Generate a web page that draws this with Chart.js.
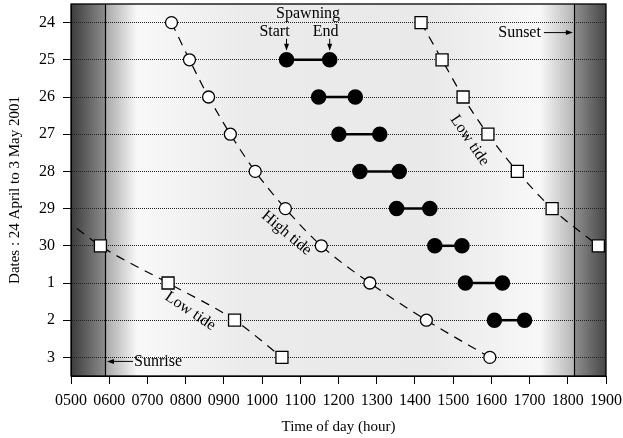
<!DOCTYPE html>
<html>
<head>
<meta charset="utf-8">
<script src="https://cdn.jsdelivr.net/npm/chart.js@4/dist/chart.umd.min.js"></script>
<style>
  html, body { margin: 0; padding: 0; background: #fff; }
  #wrap { width: 623px; height: 438px; }
</style>
</head>
<body>
<div id="wrap"><canvas id="chart"></canvas></div>
<script>
// dates run top to bottom, 24 April .. 3 May 2001
const dates = ['24', '25', '26', '27', '28', '29', '30', '1', '2', '3'];

// times of day, hhmm read on a linear 0500..1900 axis
const highTide     = [763, 810, 860, 917, 982, 1061, 1155, 1282, 1430, 1596];
const lowTideLate  = [1416, 1471, 1526, 1591, 1668, 1759, 1880, null, null, null];
const lowTideEarly = [null, null, null, null, null, 450, 577, 754, 928, 1052];
const spawnStart   = [null, 1064, 1148, 1201, 1256, 1352, 1452, 1532, 1608, null];
const spawnEnd     = [null, 1177, 1244, 1308, 1359, 1439, 1523, 1629, 1687, null];

const sunrise = 589;
const sunset = 1816;

const xTicks = [500, 600, 700, 800, 900, 1000, 1100, 1200, 1300, 1400, 1500, 1600, 1700, 1800, 1900];

const serif = '"Liberation Serif", "DejaVu Serif", serif';

function points(arr) {
  const out = [];
  arr.forEach((v, i) => { if (v !== null) out.push({x: v, y: i}); });
  return out;
}

const tideStyle = {
  showLine: true,
  borderColor: '#000',
  borderWidth: 1.2,
  borderDash: [9, 7],
  pointBackgroundColor: '#fff',
  pointBorderColor: '#000',
  pointBorderWidth: 1.3,
  cubicInterpolationMode: 'monotone'
};

const datasets = [
  Object.assign({label: 'High tide', data: points(highTide), pointStyle: 'circle', pointRadius: 6}, tideStyle),
  Object.assign({label: 'Low tide', data: points(lowTideLate), pointStyle: 'rect', pointRadius: 8.5}, tideStyle),
  Object.assign({label: 'Low tide early', data: points(lowTideEarly), pointStyle: 'rect', pointRadius: 8.5}, tideStyle)
];

// one short segment per day for spawning
dates.forEach((d, i) => {
  if (spawnStart[i] === null) return;
  datasets.push({
    label: 'Spawning ' + d,
    data: [{x: spawnStart[i], y: i}, {x: spawnEnd[i], y: i}],
    showLine: true,
    borderColor: '#000',
    borderWidth: 2.5,
    pointStyle: 'circle',
    pointRadius: 6.5,
    pointBackgroundColor: '#000',
    pointBorderColor: '#000'
  });
});

// text along the tide curves (data position + angle)
const curveLabels = [
  {text: 'High tide', x: 1064, y: 5.66, angle: 40},
  {text: 'Low tide', x: 1543, y: 3.17, angle: 56},
  {text: 'Low tide', x: 812, y: 7.76, angle: 34}
];

function arrow(ctx, x1, y1, x2, y2) {
  const a = Math.atan2(y2 - y1, x2 - x1);
  const h = 7;
  ctx.beginPath();
  ctx.moveTo(x1, y1);
  ctx.lineTo(x2 - Math.cos(a) * 4, y2 - Math.sin(a) * 4);
  ctx.stroke();
  ctx.beginPath();
  ctx.moveTo(x2, y2);
  ctx.lineTo(x2 - h * Math.cos(a) + 2.5 * Math.sin(a), y2 - h * Math.sin(a) - 2.5 * Math.cos(a));
  ctx.lineTo(x2 - h * Math.cos(a) - 2.5 * Math.sin(a), y2 - h * Math.sin(a) + 2.5 * Math.cos(a));
  ctx.closePath();
  ctx.fill();
}

const daylight = {
  id: 'daylight',
  beforeDraw(chart) {
    const {ctx, chartArea: a, scales: {x}} = chart;
    const sr = x.getPixelForValue(sunrise);
    const ss = x.getPixelForValue(sunset);
    const h = a.bottom - a.top;
    ctx.save();
    let g = ctx.createLinearGradient(a.left, 0, sr, 0);
    g.addColorStop(0, '#3c3c3c');
    g.addColorStop(1, '#8c8c8c');
    ctx.fillStyle = g;
    ctx.fillRect(a.left, a.top, sr - a.left, h);

    const w = ss - sr;
    g = ctx.createLinearGradient(sr, 0, ss, 0);
    g.addColorStop(0, '#a6a6a6');
    g.addColorStop(32 / w, '#f8f8f8');
    g.addColorStop(0.3, '#ebebeb');
    g.addColorStop(0.7, '#e9e9e9');
    g.addColorStop(1 - 34 / w, '#f8f8f8');
    g.addColorStop(1, '#b6b6b6');
    ctx.fillStyle = g;
    ctx.fillRect(sr, a.top, w, h);

    g = ctx.createLinearGradient(ss, 0, a.right, 0);
    g.addColorStop(0, '#909090');
    g.addColorStop(1, '#464646');
    ctx.fillStyle = g;
    ctx.fillRect(ss, a.top, a.right - ss, h);
    ctx.restore();
  },
  beforeDatasetsDraw(chart) {
    const {ctx, chartArea: a, scales: {x}} = chart;
    ctx.save();
    ctx.strokeStyle = '#000';
    ctx.lineWidth = 1.2;
    [sunrise, sunset].forEach(v => {
      const px = Math.round(x.getPixelForValue(v)) + 0.5;
      ctx.beginPath();
      ctx.moveTo(px, a.top);
      ctx.lineTo(px, a.bottom);
      ctx.stroke();
    });
    ctx.restore();
  },
  afterDatasetsDraw(chart) {
    const {ctx, chartArea: a, scales: {x, y}} = chart;
    ctx.save();
    ctx.fillStyle = '#000';
    ctx.strokeStyle = '#000';
    ctx.lineWidth = 1;
    ctx.font = '16px ' + serif;
    ctx.textBaseline = 'alphabetic';

    // spawning legend above the first pair
    const sx = x.getPixelForValue(spawnStart[1]);
    const ex = x.getPixelForValue(spawnEnd[1]);
    const ry = y.getPixelForValue(1);
    ctx.textAlign = 'center';
    ctx.fillText('Spawning', (sx + ex) / 2, ry - 42);
    ctx.fillText('Start', sx - 12, ry - 24);
    ctx.fillText('End', ex - 4, ry - 24);
    arrow(ctx, sx, ry - 21, sx, ry - 9);
    arrow(ctx, ex, ry - 21, ex, ry - 9);

    // sunset / sunrise
    const ssx = x.getPixelForValue(sunset);
    const srx = x.getPixelForValue(sunrise);
    ctx.textAlign = 'right';
    ctx.fillText('Sunset', ssx - 33, y.getPixelForValue(0) + 14);
    arrow(ctx, ssx - 30, y.getPixelForValue(0) + 10, ssx - 1, y.getPixelForValue(0) + 10);
    ctx.textAlign = 'left';
    const sry = y.getPixelForValue(9) + 4;
    ctx.fillText('Sunrise', srx + 29, sry + 5);
    arrow(ctx, srx + 28, sry, srx + 2, sry);

    // curve labels
    ctx.textAlign = 'center';
    ctx.textBaseline = 'middle';
    curveLabels.forEach(l => {
      ctx.save();
      ctx.translate(x.getPixelForValue(l.x), y.getPixelForValue(l.y));
      ctx.rotate(l.angle * Math.PI / 180);
      ctx.fillText(l.text, 0, 0);
      ctx.restore();
    });

    // frame
    ctx.lineWidth = 1.3;
    ctx.strokeRect(a.left, a.top, a.right - a.left, a.bottom - a.top);
    ctx.restore();
  }
};

function noOverhang(s) {
  s.paddingTop = 0;
  s.paddingBottom = 0;
  s.paddingLeft = 0;
  s.paddingRight = 0;
}

new Chart(document.getElementById('chart'), {
  type: 'scatter',
  data: {datasets},
  options: {
    responsive: true,
    maintainAspectRatio: false,
    animation: false,
    layout: {autoPadding: false, padding: {top: 4, right: 17, left: 0, bottom: 0}},
    plugins: {legend: {display: false}, tooltip: {enabled: false}},
    scales: {
      x: {
        type: 'linear',
        min: 500,
        max: 1900,
        afterBuildTicks: s => { s.ticks = xTicks.map(v => ({value: v})); },
        afterFit: s => { s.height = 62; noOverhang(s); },
        ticks: {
          color: '#000',
          font: {family: serif, size: 16},
          padding: 7,
          maxRotation: 0,
          autoSkip: false,
          callback: v => String(v).padStart(4, '0')
        },
        grid: {drawOnChartArea: false, drawTicks: true, tickLength: 8, color: '#000'},
        border: {display: true, color: '#000'},
        title: {
          display: true,
          text: 'Time of day (hour)',
          color: '#000',
          font: {family: serif, size: 15},
          padding: {top: 0, bottom: 2}
        }
      },
      y: {
        type: 'linear',
        min: -0.5,
        max: 9.5,
        reverse: true,
        afterBuildTicks: s => { s.ticks = dates.map((d, i) => ({value: i})); },
        afterFit: s => { s.width = 71; noOverhang(s); },
        ticks: {
          color: '#000',
          font: {family: serif, size: 16},
          padding: 8,
          callback: v => dates[v]
        },
        grid: {color: '#222', lineWidth: 1, drawTicks: true, tickLength: 8, tickColor: '#000', tickBorderDash: []},
        border: {display: true, color: '#000', dash: [1, 1]},
        title: {
          display: true,
          text: 'Dates : 24 April to 3 May 2001',
          color: '#000',
          font: {family: serif, size: 15},
          padding: {top: 6, bottom: 0}
        }
      }
    }
  },
  plugins: [daylight]
});
</script>
</body>
</html>
